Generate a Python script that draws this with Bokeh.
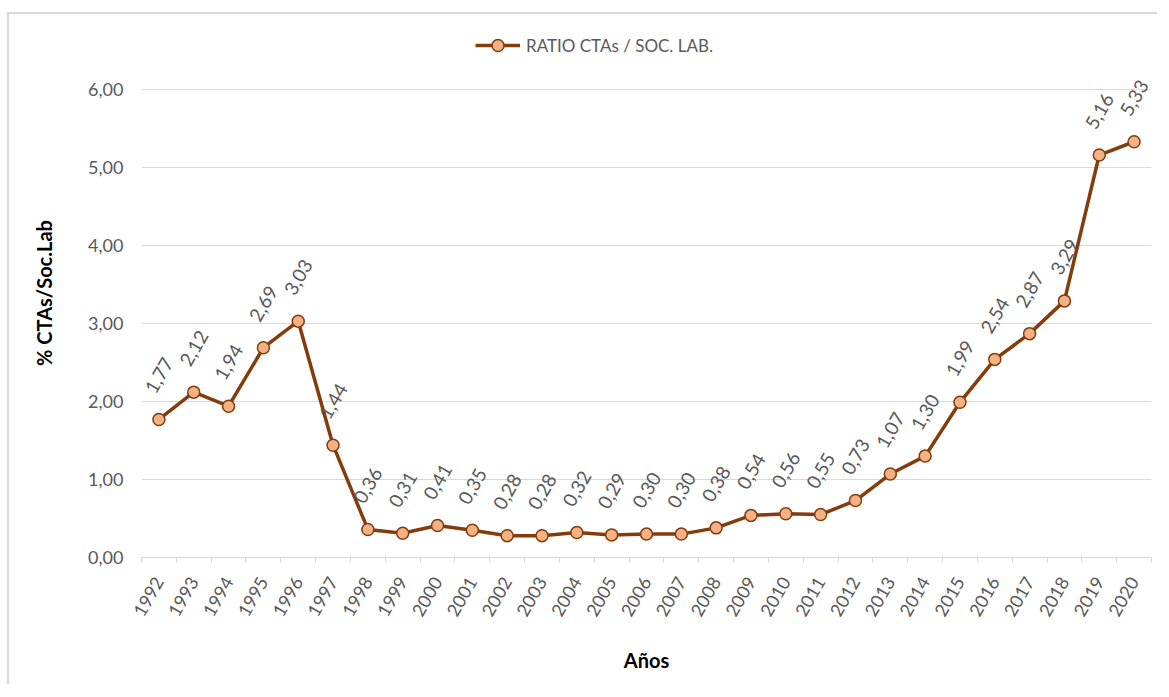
import math
from bokeh.plotting import figure
from bokeh.models import (ColumnDataSource, Range1d, FixedTicker, CustomJSTickFormatter,
                          Legend, LegendItem)
from bokeh.core.properties import value
from bokeh.embed import file_html
from bokeh.resources import INLINE

years = ["1992", "1993", "1994", "1995", "1996", "1997", "1998", "1999", "2000", "2001",
         "2002", "2003", "2004", "2005", "2006", "2007", "2008", "2009", "2010", "2011",
         "2012", "2013", "2014", "2015", "2016", "2017", "2018", "2019", "2020"]
ratio = [1.77, 2.12, 1.94, 2.69, 3.03, 1.44, 0.36, 0.31, 0.41, 0.35,
         0.28, 0.28, 0.32, 0.29, 0.30, 0.30, 0.38, 0.54, 0.56, 0.55,
         0.73, 1.07, 1.30, 1.99, 2.54, 2.87, 3.29, 5.16, 5.33]
y_ticks = [0, 1, 2, 3, 4, 5, 6]
series_name = "RATIO CTAs / SOC. LAB."
x_title = "Años"
y_title = "% CTAs/Soc.Lab"

n = len(years)
xs = list(range(n))
labels = [f"{v:.2f}".replace(".", ",") for v in ratio]
src = ColumnDataSource(dict(x=xs, y=ratio, lab=labels))

FONT = "Lato"
GREY = "#595959"
LINE = "#843C0C"
FILL = "#F4B183"
GRID = "#d9d9d9"

p = figure(width=1150, height=672, output_backend="svg", toolbar_location=None,
           x_range=Range1d(-0.5, n - 0.5), y_range=Range1d(0, 6.782),
           min_border_left=132, min_border_right=8, min_border_top=14, min_border_bottom=129)
p.styles = {"margin-top": "12px", "margin-left": "7px",
            "border-top": "2px solid #d9d9d9", "border-left": "2px solid #d9d9d9"}
p.outline_line_color = None
p.background_fill_color = "white"
p.border_fill_color = "white"

# axes
p.xaxis.ticker = FixedTicker(ticks=xs, minor_ticks=[i - 0.5 for i in range(n + 1)])
p.xaxis.formatter = CustomJSTickFormatter(args=dict(labels=years),
                                          code="const i = Math.round(tick); return (i >= 0 && i < labels.length) ? labels[i] : '';")
p.xaxis.major_label_orientation = math.pi / 3
p.xaxis.major_tick_out = 0
p.xaxis.major_tick_in = 0
p.xaxis.minor_tick_out = 5
p.xaxis.minor_tick_in = 0
p.xaxis.minor_tick_line_color = GRID
p.xaxis.axis_line_color = GRID
p.xaxis.major_label_standoff = 16
p.xaxis.axis_label = x_title
p.xaxis.axis_label_standoff = 24

p.yaxis.ticker = FixedTicker(ticks=y_ticks)
p.yaxis.formatter = CustomJSTickFormatter(code="return tick.toFixed(2).replace('.', ',');")
p.yaxis.axis_line_color = None
p.yaxis.major_tick_out = 0
p.yaxis.major_tick_in = 0
p.yaxis.minor_tick_line_color = None
p.yaxis.major_label_standoff = 18
p.yaxis.axis_label = y_title
p.yaxis.axis_label_standoff = 29

for ax in (p.xaxis[0], p.yaxis[0]):
    ax.major_label_text_font = FONT
    ax.major_label_text_font_size = "18px"
    ax.major_label_text_color = GREY
    ax.axis_label_text_font = FONT
    ax.axis_label_text_font_size = "20px"
    ax.axis_label_text_font_style = "bold"
    ax.axis_label_text_color = "black"

p.xgrid.grid_line_color = None
p.ygrid.grid_line_color = GRID
p.ygrid.grid_line_width = 1

# series
lr = p.line("x", "y", source=src, line_color=LINE, line_width=3.5)
sr = p.scatter("x", "y", source=src, size=12, fill_color=FILL, line_color=LINE, line_width=1.5)

# data labels
p.text("x", "y", text="lab", source=src, angle=math.pi / 3, text_align="center",
       text_baseline="middle", y_offset=-44, text_font=value(FONT),
       text_font_size="19px", text_color=GREY)

legend = Legend(items=[LegendItem(label=series_name, renderers=[lr, sr])],
                location=(334, 497), orientation="horizontal",
                glyph_width=45, glyph_height=30, label_standoff=6,
                padding=0, margin=0, spacing=0,
                border_line_color=None, background_fill_alpha=0,
                label_text_font=FONT, label_text_font_size="17px", label_text_color=GREY)
p.add_layout(legend, "center")

open("out.html", "w").write(file_html(p, INLINE))
